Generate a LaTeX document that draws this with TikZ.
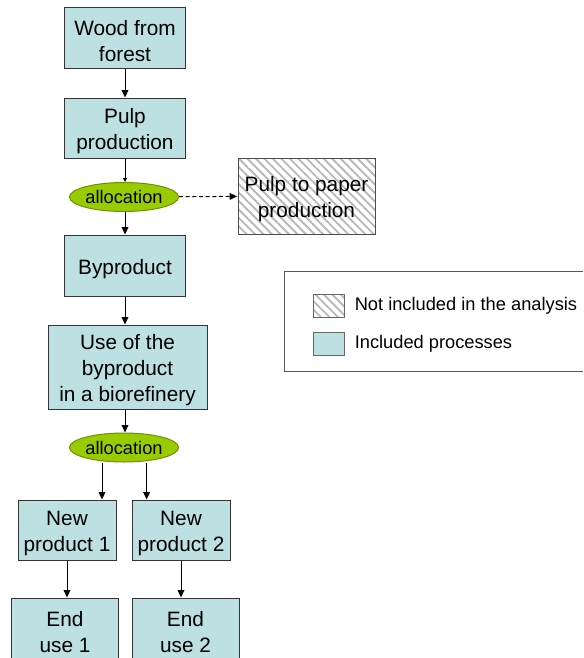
\documentclass[tikz,border=0pt]{standalone}
\usepackage{fontspec}
\setmainfont{Liberation Sans}
\usetikzlibrary{shapes.geometric,arrows.meta,patterns.meta}
\definecolor{boxblue}{HTML}{BDE0E3}
\definecolor{allocgreen}{HTML}{99CC00}
\definecolor{allocedge}{HTML}{6E8F00}
\def\boxfont{\fontsize{15.6}{19.5}\selectfont}
\def\padtop{\rule{0pt}{16pt}}

\begin{document}
\begin{tikzpicture}[x=0.75pt,y=-0.75pt,>={Triangle[width=5pt,length=5.5pt]},line width=0.75pt]
    \tikzstyle{process}=[rectangle,draw=black!80,fill=boxblue,align=center,inner sep=1pt,font=\boxfont]
    \tikzstyle{excluded}=[rectangle,draw=black!70,align=center,inner sep=1pt,font=\boxfont,
        pattern={Lines[angle=-45,distance=4.5pt,line width=1.4pt]},pattern color=black!28]
    \tikzstyle{alloc}=[ellipse,draw=allocedge,fill=allocgreen,inner sep=0pt,
        minimum width=79.5pt,minimum height=21.75pt,font=\fontsize{13.7}{16}\selectfont]
    \tikzstyle{flow}=[->,black]
    \tikzstyle{legend text}=[anchor=west,font=\fontsize{13.7}{16}\selectfont]

    \useasboundingbox (0,0) rectangle (583,658);
    \clip (0,0) rectangle (583,658);

    % Main chain
    \node[process,minimum width=90.75pt,minimum height=45.75pt] (wood) at (125,37.5) {\padtop Wood from\\forest};
    \node[process,minimum width=90.75pt,minimum height=45pt] (pulp) at (125,128) {\padtop Pulp\\production};
    \node[alloc] (alloc-1) at (124,197) {allocation};
    \node[excluded,minimum width=102.75pt,minimum height=57pt] (paper) at (306.5,196) {\padtop Pulp to paper\\production};
    \node[process,minimum width=90.75pt,minimum height=45.75pt] (byprod) at (125,265.5) {\padtop Byproduct};
    \node[process,minimum width=119.25pt,minimum height=63pt] (bioref) at (127.5,367) {\padtop Use of the\\byproduct\\in a biorefinery};
    \node[alloc] (alloc-2) at (124,447.5) {allocation};

    % Products and end uses
    \foreach \name / \x / \xe in {1/67/65, 2/181/185.5} {
        \node[process,minimum width=73.5pt,minimum height=45pt] (new-\name) at (\x,530) {\padtop New\\product \name};
        \node[process,minimum width=80.25pt,minimum height=45.75pt] (end-\name) at (\xe,628.5) {\padtop End\\use \name};
    }

    % Connect the chain
    \draw[flow] (wood) -- (pulp);
    \draw[->,black,>={Triangle[width=3pt,length=3pt]}] (pulp.south) -- (pulp.south |- alloc-1.north);
    \draw[flow] (alloc-1.south -| byprod) -- (byprod);
    \draw[flow,dashed,dash pattern=on 3pt off 2pt] (alloc-1) -- (paper);
    \draw[flow] (byprod.south) -- (byprod.south |- bioref.north);
    \draw[flow] (bioref.south -| byprod) -- (alloc-2.north -| byprod);
    \draw[flow] ([xshift=-16.5pt]alloc-2.south) -- ([xshift=-16.5pt]alloc-2.south |- new-1.north);
    \draw[flow] ([xshift=17pt]alloc-2.south) -- ([xshift=17pt]alloc-2.south |- new-2.north);
    \foreach \name in {1,2}
        \draw[flow] (new-\name.south) -- (new-\name.south |- end-\name.north);

    % Legend
    \draw[black!65] (284,271) rectangle (600,371);
    \node[rectangle,draw=black!60,pattern={Lines[angle=-45,distance=4.5pt,line width=1.4pt]},pattern color=black!28,
        minimum width=23.25pt,minimum height=17.25pt,inner sep=0pt] (key-1) at (328.5,306) {};
    \node[rectangle,draw=black!60,fill=boxblue,minimum width=23.25pt,minimum height=17.25pt,inner sep=0pt] (key-2) at (328.5,344) {};
    \node[legend text] at ([xshift=4pt]key-1.east) {Not included in the analysis};
    \node[legend text] at ([xshift=4pt]key-2.east) {Included processes};
\end{tikzpicture}
\end{document}
